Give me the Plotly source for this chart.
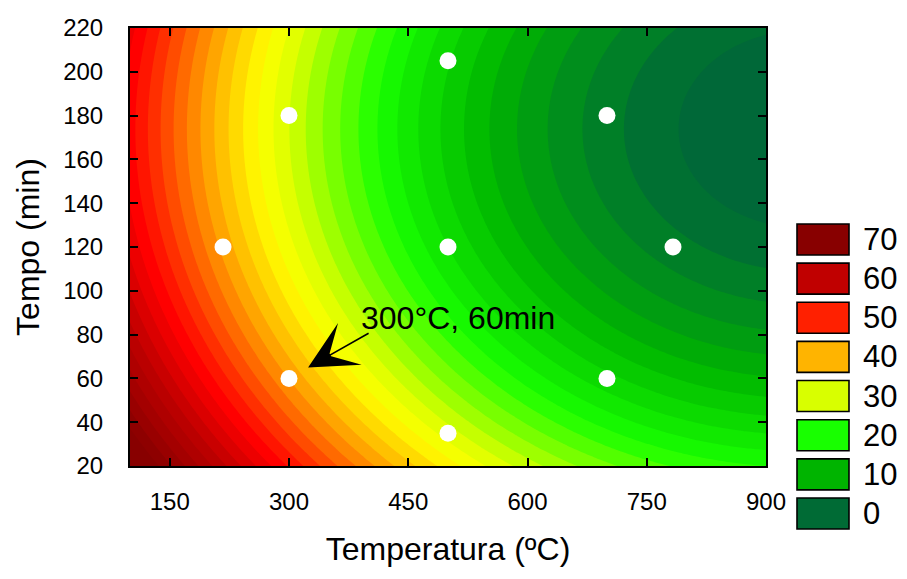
import numpy as np
import plotly.graph_objects as go

# Central composite design: temperature (°C), time (min) and measured response
temp_pts = [300, 300, 700, 700, 217, 783, 500, 500, 500]
time_pts = [60, 180, 60, 180, 120, 120, 35, 205, 120]
response = [42, 31, 15, 4, 41, 2, 31, 13, 16]

# Legend classes and colours
legend_levels = [70, 60, 50, 40, 30, 20, 10, 0]
legend_colors = ["#880000", "#C00000", "#FF2000", "#FFB400",
                 "#D8FF00", "#18FF00", "#00B400", "#006B35"]

x_ticks = [150, 300, 450, 600, 750, 900]
y_ticks = [20, 40, 60, 80, 100, 120, 140, 160, 180, 200, 220]

# Second-order response surface fitted in coded units
T0, dT, t0, dt = 500.0, 200.0, 120.0, 60.0


def design(T, t):
    a = (np.asarray(T, float) - T0) / dT
    b = (np.asarray(t, float) - t0) / dt
    return np.stack([np.ones_like(a), a, b, a * a, b * b, a * b], axis=-1)


coef, *_ = np.linalg.lstsq(design(temp_pts, time_pts), np.asarray(response, float), rcond=None)

T_grid = np.linspace(100, 900, 161)
t_grid = np.linspace(20, 220, 101)
TT, tt = np.meshgrid(T_grid, t_grid)
Z = design(TT, tt) @ coef

# Colour scale anchored on the legend classes (0..70)
zmin, zmax = 0, 70
anchors = [(0, "#006838"), (10, "#00B400"), (20, "#18FF00"), (30, "#D8FF00"),
           (34, "#FFFF00"), (40, "#FFB400"), (50, "#FF2000"), (53, "#FF0000"),
           (60, "#C00000"), (70, "#880000")]
colorscale = [[(v - zmin) / (zmax - zmin), c] for v, c in anchors]

FONT = "Liberation Sans, Arial, sans-serif"

fig = go.Figure()
fig.add_trace(go.Contour(
    x=T_grid, y=t_grid, z=Z,
    colorscale=colorscale, zmin=zmin, zmax=zmax, zauto=False,
    contours=dict(start=-10, end=80, size=2, coloring="fill"),
    line=dict(width=0),
    showscale=False, hoverinfo="skip",
))
fig.add_trace(go.Scatter(
    x=temp_pts, y=time_pts, mode="markers",
    marker=dict(size=17, color="white", line=dict(width=0)),
    showlegend=False, hoverinfo="skip",
))

# Highlighted run
fig.add_annotation(x=513, y=87.6, text="300°C, 60min", showarrow=False,
                   font=dict(family=FONT, size=32, color="black"))
fig.add_annotation(x=324, y=65, ax=402, ay=81, axref="x", ayref="y", text="",
                   showarrow=True, arrowhead=3, arrowsize=5, arrowwidth=1.6,
                   arrowcolor="black")

# Plot-area geometry (pixels)
W, H = 907, 579
ML, MR, MT, MB = 130, 141, 28, 113
PW, PH = W - ML - MR, H - MT - MB


def px_x(p):
    return (p - ML) / PW


def px_y(p):
    return (H - MB - p) / PH


# Class legend drawn beside the plot
box_left, box_right, row_top, row_step, box_h = 797, 849, 224, 39.14, 31
for i, (lev, col) in enumerate(zip(legend_levels, legend_colors)):
    top = row_top + i * row_step
    fig.add_shape(type="rect", xref="paper", yref="paper",
                  x0=px_x(box_left), x1=px_x(box_right),
                  y0=px_y(top + box_h), y1=px_y(top),
                  fillcolor=col, line=dict(color="black", width=1.6))
    fig.add_annotation(xref="paper", yref="paper", x=px_x(861), y=px_y(top + box_h / 2),
                       xanchor="left", yanchor="middle", text=str(lev), showarrow=False,
                       font=dict(family=FONT, size=31, color="black"))

axis_common = dict(showline=True, linecolor="black", linewidth=2, mirror="ticks",
                   ticks="inside", ticklen=8, tickwidth=1.5, tickcolor="black",
                   showgrid=False, zeroline=False,
                   tickfont=dict(family=FONT, size=24, color="black"))

fig.update_layout(
    width=W, height=H,
    margin=dict(l=ML, r=MR, t=MT, b=MB),
    paper_bgcolor="white", plot_bgcolor="white",
    xaxis=dict(range=[100, 900], tickvals=x_ticks, ticklabelstandoff=13,
               title=dict(text="Temperatura (ºC)", standoff=24,
                          font=dict(family=FONT, size=32, color="black")),
               **axis_common),
    yaxis=dict(range=[20, 220], tickvals=y_ticks, ticklabelstandoff=20,
               title=dict(text="Tempo (min)", standoff=14,
                          font=dict(family=FONT, size=32, color="black")),
               **axis_common),
    showlegend=False,
)

fig.write_html("out.html")
